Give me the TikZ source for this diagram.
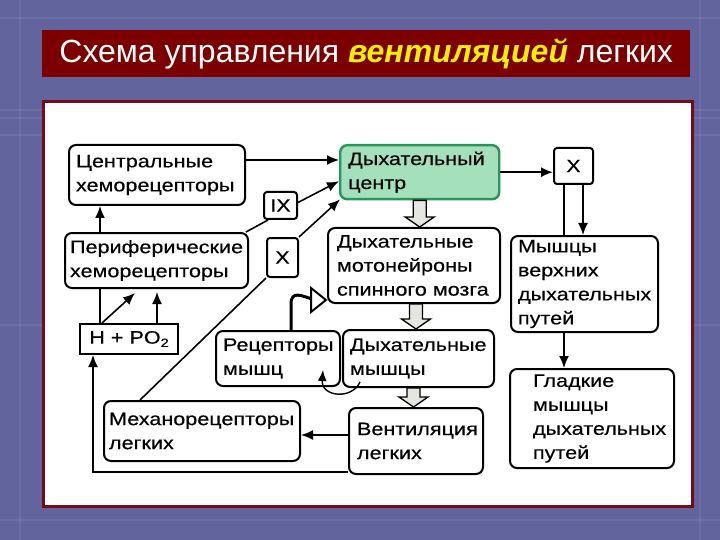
\documentclass[tikz,border=0pt]{standalone}
\usepackage{fontspec}
\setmainfont{Liberation Sans}
\newfontfamily\bxf{Liberation Sans}[FakeStretch=1.2,FakeBold=0.4]
\usetikzlibrary{arrows.meta,calc}
\definecolor{bgc}{RGB}{98,100,158}
\definecolor{barc}{RGB}{125,0,0}
\definecolor{panelb}{RGB}{120,10,20}
\definecolor{cenf}{RGB}{164,224,188}
\definecolor{cenb}{RGB}{40,150,90}
\definecolor{blkf}{RGB}{230,230,224}
\definecolor{tyel}{RGB}{255,240,0}
\newcommand\blkarr[2]{%
  \filldraw[blk] ($(#1)+(-6.5,0)$) -- ($(#2)+(-6.5,-10)$) -- ($(#2)+(-14.5,-10)$) -- (#2)
    -- ($(#2)+(14.5,-10)$) -- ($(#2)+(6.5,-10)$) -- ($(#1)+(6.5,0)$) -- cycle;}
\begin{document}
\begin{tikzpicture}[x=1pt,y=-1pt,
  bx/.style={draw, line width=2pt, rounded corners=7pt, fill=white, align=left,
    anchor=north west, inner xsep=7pt, inner ysep=0pt,
    font=\bxf\fontsize{18}{24}\selectfont},
  sbx/.style={draw, line width=2pt, rounded corners=3pt, fill=white,
    anchor=north west, inner sep=0pt, font=\bxf\fontsize{18}{24}\selectfont},
  ln/.style={line width=1.6pt},
  arr/.style={ln, -{Latex[length=12pt,width=10pt]}},
  blk/.style={fill=blkf, draw=black, line width=1.3pt, line join=miter}]
\useasboundingbox (0,0) rectangle (720,540);
\fill[bgc] (0,0) rectangle (720,540);
\foreach \yy in {18,110,118,135,325,520} \draw[white, opacity=0.08, line width=2pt] (0,\yy) -- (720,\yy);
\foreach \xx in {20,700} \draw[white, opacity=0.06, line width=2pt] (\xx,0) -- (\xx,540);
% title bar
\node[fill=barc, minimum width=648, minimum height=47, anchor=north west, inner sep=0pt,
  text=white, font=\fontsize{32}{32}\selectfont] (title) at (42,30)
  {Схема управления {\bfseries\itshape\color{tyel}вентиляцией} легких};
% panel
\node[draw=panelb, line width=3pt, fill=white, minimum width=649, minimum height=405,
  anchor=north west, inner sep=0pt] (panel) at (42,100) {};
% boxes
\node[bx, minimum width=176, minimum height=60, text width=162] (ctr) at (68,144) {Центральные\\хеморецепторы};
\node[bx, minimum width=183, minimum height=55, inner xsep=5pt, text width=173] (per) at (64,232) {Периферические\\хеморецепторы};
\node[sbx, minimum width=33, minimum height=27] (IX) at (263,191) {IX};
\node[sbx, minimum width=31, minimum height=39] (Xl) at (266,237) {X};
\node[bx, draw=cenb, line width=2.4pt, fill=cenf, minimum width=159, minimum height=54, inner xsep=8pt, text width=143] (cen) at (339,144) {Дыхательный\\центр};
\node[bx, minimum width=172, minimum height=75, inner xsep=9pt, text width=154] (mot) at (327,227) {Дыхательные\\мотонейроны\\спинного мозга};
\node[sbx, minimum width=39, minimum height=36] (xr) at (553,147) {X};
\node[bx, minimum width=147, minimum height=96, text width=133] (mvp) at (510,235) {Мышцы\\верхних\\дыхательных\\путей};
\node[bx, minimum width=164, minimum height=99, inner xsep=23pt, text width=118] (gl) at (509,368) {Гладкие\\мышцы\\дыхательных\\путей};
\node[sbx, rounded corners=0pt, minimum width=98, minimum height=30] (hp) at (79,323) {H + PO\raisebox{-0.35ex}{\fontsize{12}{12}\selectfont 2}};
\node[bx, minimum width=124, minimum height=55, text width=110] (rec) at (215,330) {Рецепторы\\мышц};
\node[bx, minimum width=151, minimum height=57, text width=137] (mus) at (342,329) {Дыхательные\\мышцы};
\node[bx, minimum width=196, minimum height=60, inner xsep=5pt, text width=186] (mech) at (103,400) {Механорецепторы\\легких};
\node[bx, minimum width=134, minimum height=66, inner xsep=8pt, text width=118] (vent) at (348,407) {Вентиляция\\легких};
% connectors
\draw[arr] ($(ctr.north east)+(0,16)$) -- ($(cen.north west)+(0,16)$);
\draw[arr] ($(IX.east)+(0,-3)$) -- ($(cen.west)+(0,9)$);
\draw[ln] ($(per.north east)+(-3,0)$) -- ($(IX.south west)+(5,0)$);
\draw[arr] (Xl.north east) -- ($(cen.south west)+(1,-1)$);
\draw[ln] ($(mech.north west)+(37,0)$) -- (Xl.south west);
\draw[arr] (cen.east) -- (cen.east -| xr.west);
\coordinate (xa) at ($(xr.south)+(-9.5,0)$);
\coordinate (xb) at ($(xr.south)+(9.5,0)$);
\draw[ln] (xa) -- (xa |- mvp.north);
\draw[arr] (xb) -- (xb |- mvp.north);
\draw[arr] (xa |- mvp.south) -- (xa |- gl.north);
\coordinate (va) at ($(vent.north west)+(0,28)$);
\draw[arr] (va) -- (va -| mech.east);
\draw[arr] ($(vent.south west)+(0,-3)$) -| ($(hp.south west)+(14,0)$);
\draw[ln] ($(hp.north west)+(21,0)$) -- ($(per.south west)+(36,0)$);
\draw[arr] ($(per.north west)+(36,0)$) -- ($(ctr.south west)+(32,0)$);
\draw[arr] ($(hp.north west)+(23,0)$) -- ($(per.south west)+(71,4)$);
\draw[arr] ($(hp.north west)+(78,0)$) -- ($(per.south west)+(93,3)$);
% block arrows
\coordinate (b1a) at (cen.south);
\coordinate (b1b) at (cen.south |- mot.north);
\blkarr{b1a}{b1b}
\coordinate (b2a) at ($(mot.south)+(2,0)$);
\coordinate (b2b) at (b2a |- mus.north);
\blkarr{b2a}{b2b}
\coordinate (b3a) at ($(mus.south)+(-5,0)$);
\coordinate (b3b) at (b3a |- vent.north);
\blkarr{b3a}{b3b}
% curved thick arrow from receptors to motoneurons
\coordinate (ht) at ($(mot.south west)+(-1,-4)$);
\coordinate (hs) at ($(rec.north)+(13,0)$);
\draw[line width=3pt] (hs) -- ($(hs)+(0,-26)$) .. controls ($(hs)+(0,-40)$) and ($(ht)+(-24,-4)$) .. ($(ht)+(-14,-1)$);
\filldraw[fill=white, line width=2pt, line join=miter] ($(ht)+(-15,-12)$) -- (ht) -- ($(ht)+(-15,12)$) -- cycle;
% curved arrow from respiratory muscles back to receptors
\draw[line width=1.4pt, -{Latex[length=11pt,width=9pt]}] ($(mus.south west)+(18,-6)$) .. controls ($(mus.south west)+(10,12)$) and ($(rec.south east)+(-20,10)$) .. ($(rec.south east)+(-18,-17)$);
\end{tikzpicture}
\end{document}
